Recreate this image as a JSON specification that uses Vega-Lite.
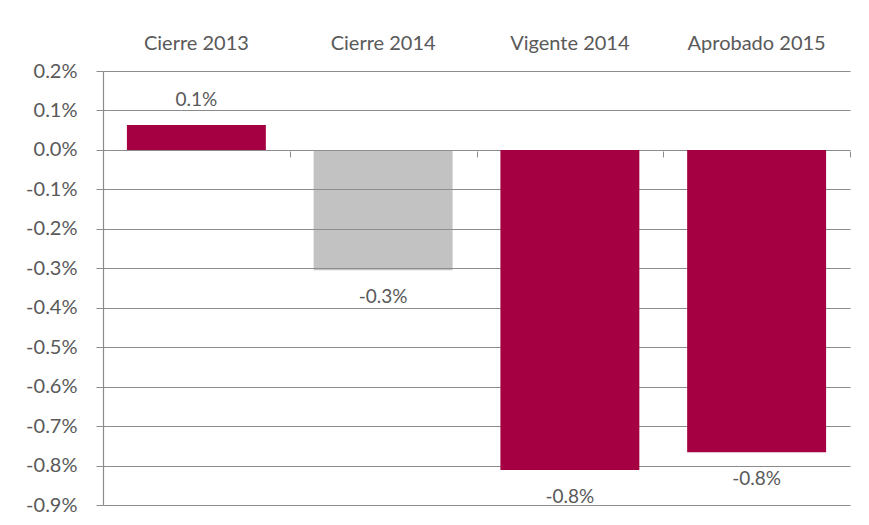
{
  "$schema": "https://vega.github.io/schema/vega-lite/v6.json",
  "width": 747,
  "height": 434,
  "autosize": {"type": "none"},
  "padding": {"left": 103, "top": 71, "right": 19, "bottom": 20},
  "background": "white",
  "config": {"view": {"stroke": null}, "font": "Lato"},
  "data": {"values": [
    {"category": "Cierre 2013", "value": 0.063, "label": "0.1%"},
    {"category": "Cierre 2014", "value": -0.305, "label": "-0.3%"},
    {"category": "Vigente 2014", "value": -0.811, "label": "-0.8%"},
    {"category": "Aprobado 2015", "value": -0.766, "label": "-0.8%"}
  ]},
  "resolve": {"scale": {"x": "independent"}, "axis": {"x": "independent"}},
  "layer": [
    {
      "mark": {"type": "rule", "opacity": 0},
      "encoding": {
        "x": {"datum": 0, "type": "quantitative", "scale": {"domain": [0, 4], "nice": false, "zero": false},
          "axis": {"orient": "bottom", "offset": -354, "values": [0, 1, 2, 3, 4], "labels": false, "title": null, "domain": false, "grid": false, "ticks": true, "tickSize": 6, "tickColor": "#8c8c8c", "tickWidth": 1}}
      }
    },
    {
      "layer": [
        {
          "mark": {"type": "bar"},
          "encoding": {
            "x": {"field": "category", "type": "nominal", "sort": null,
              "scale": {"paddingInner": 0.256, "paddingOuter": 0.128},
              "axis": {"orient": "top", "title": null, "ticks": false, "domain": false, "grid": false, "labelAngle": 0, "labelFontSize": 20, "labelColor": "#595959", "labelPadding": 18}},
            "y": {"field": "value", "type": "quantitative",
              "scale": {"domain": [-0.9, 0.2], "nice": false, "zero": false},
              "axis": {"title": null, "values": [0.2, 0.1, 0, -0.1, -0.2, -0.3, -0.4, -0.5, -0.6, -0.7, -0.8, -0.9], "tickCount": 12,
                "labelOverlap": false, "labelBound": false, "labelFlush": false,
                "labelExpr": "replace(format(datum.value, '.1f'), '\u2212', '-') + '%'", "grid": true, "gridColor": "#8c8c8c", "gridOpacity": 1, "gridWidth": 1.2,
                "domainColor": "#8c8c8c", "domainWidth": 1.2, "tickColor": "#8c8c8c", "tickSize": 7, "labelPadding": 19, "labelFontSize": 20, "labelColor": "#595959"}},
            "color": {"field": "category", "type": "nominal",
              "scale": {"domain": ["Cierre 2013", "Cierre 2014", "Vigente 2014", "Aprobado 2015"], "range": ["#A50041", "#8f8f8f", "#A50041", "#A50041"]},
              "legend": null},
            "opacity": {"condition": {"test": "datum.category === 'Cierre 2014'", "value": 0.55}, "value": 1}
          }
        },
        {
          "transform": [{"filter": "datum.value >= 0"}],
          "mark": {"type": "text", "dy": -25, "fontSize": 19, "color": "#595959"},
          "encoding": {
            "x": {"field": "category", "type": "nominal", "sort": null},
            "y": {"field": "value", "type": "quantitative"},
            "text": {"field": "label"}
          }
        },
        {
          "transform": [{"filter": "datum.value < 0"}],
          "mark": {"type": "text", "dy": 27, "fontSize": 19, "color": "#595959"},
          "encoding": {
            "x": {"field": "category", "type": "nominal", "sort": null},
            "y": {"field": "value", "type": "quantitative"},
            "text": {"field": "label"}
          }
        }
      ]
    }
  ]
}
